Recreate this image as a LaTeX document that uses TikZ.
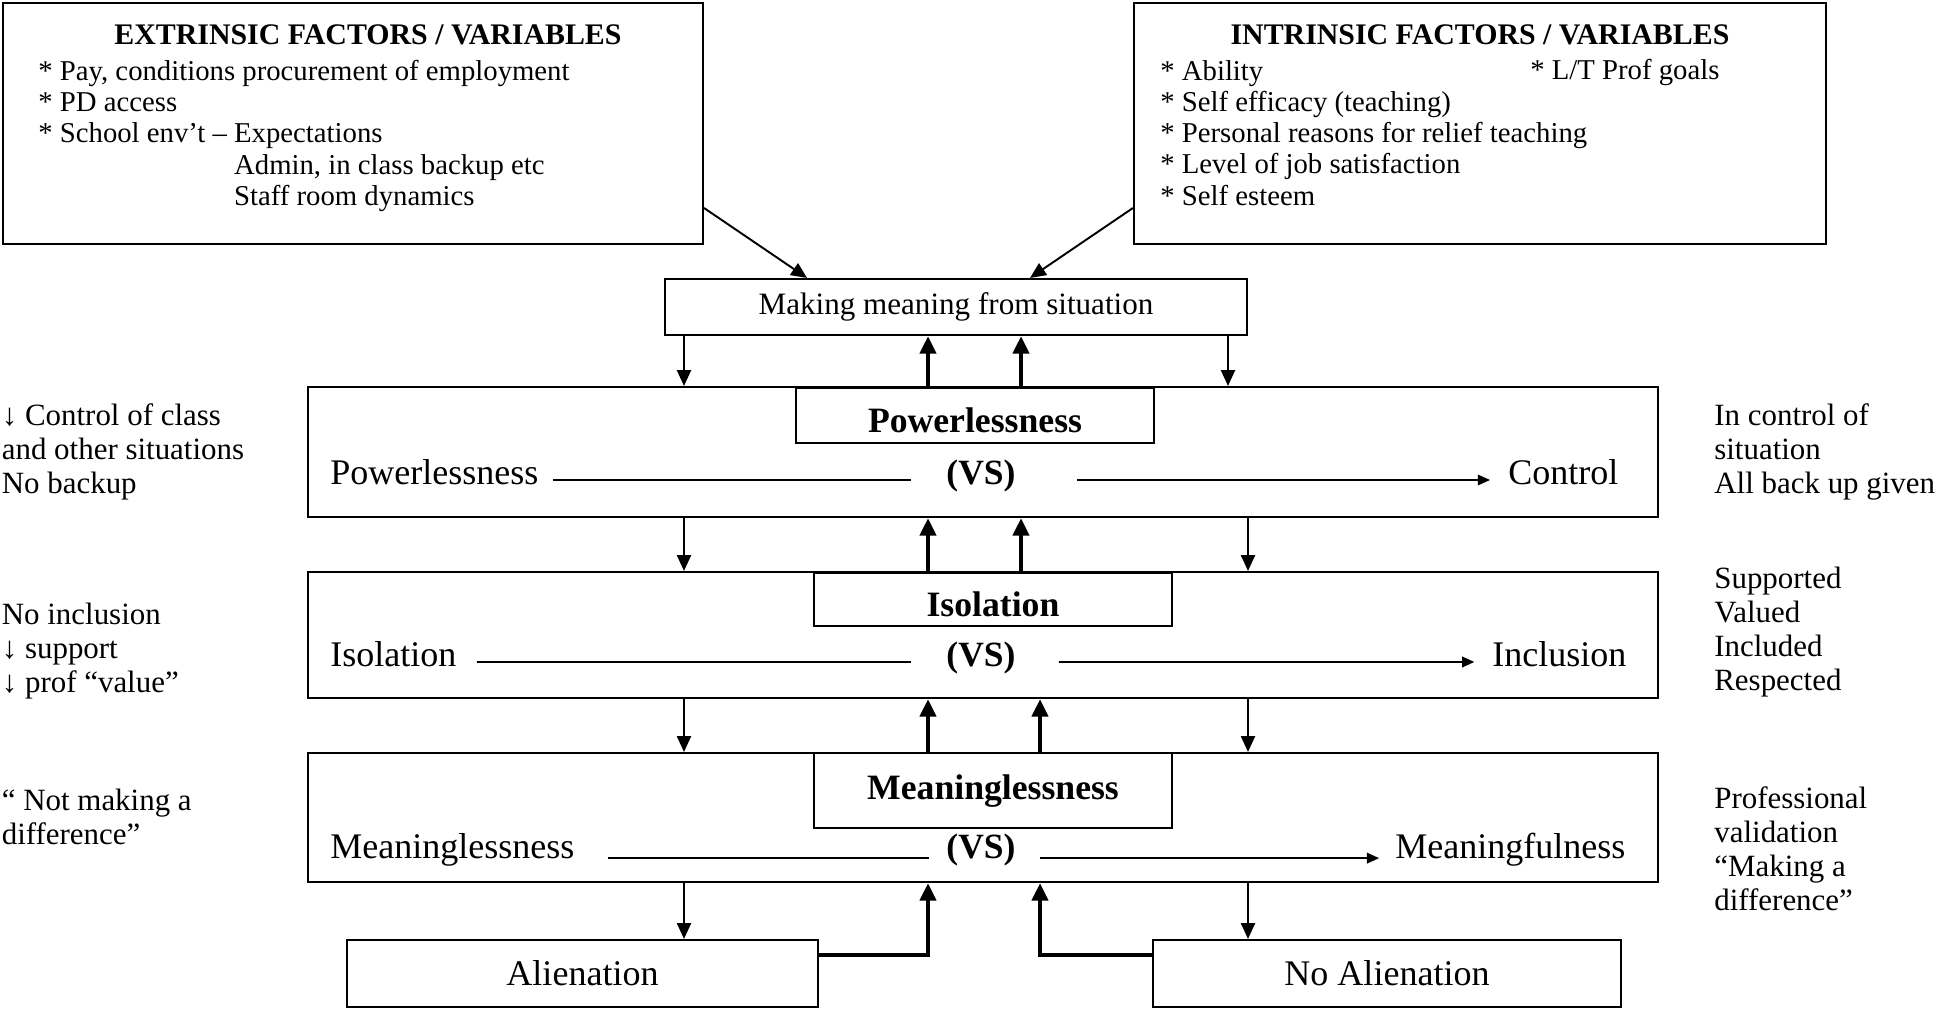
\documentclass[tikz,border=0pt]{standalone}
\usepackage{fontspec}
\setmainfont{Liberation Serif}
\usepackage{tikz}
\usetikzlibrary{arrows.meta}

\begin{document}
\begin{tikzpicture}[scale=0.2]
\tikzstyle{every node}+=[inner sep=0pt]
\tikzstyle{box}=[draw, line width=1.2pt, minimum width=27cm]
\tikzstyle{tbox}=[draw, line width=1.2pt, minimum width=7.16cm, font=\fontsize{20.3}{24}\selectfont\bfseries, text height=1.45em, text depth=0pt]
\tikzstyle{row}=[font=\fontsize{20.5}{24}\selectfont, text height=0.69em, text depth=0.22em]
\tikzstyle{side}=[font=\fontsize{17.6}{19.35}\selectfont, align=left, anchor=north west]
\tikzstyle{item}=[font=\fontsize{16.35}{17.75}\selectfont, align=left, anchor=north west]
\tikzstyle{head}=[font=\fontsize{17}{19}\selectfont\bfseries, anchor=base]
\tikzstyle{arr}=[line width=1.1pt, -{Triangle[length=9pt,width=8pt]}]
\tikzstyle{uparr}=[line width=2.6pt, -{Triangle[length=10pt,width=9pt]}]
\tikzstyle{vsline}=[line width=1.1pt]
\tikzstyle{vsarr}=[line width=1.1pt, -{Triangle[length=7pt,width=6pt]}]
\useasboundingbox (0,0) rectangle (194.6,-101);
% factor boxes
\node[draw, line width=1.2pt, minimum width=14cm, minimum height=4.82cm] (ext) at (35.3,-12.35) {};
\node[head] (exthead) at (36.8,-4.4) {EXTRINSIC FACTORS / VARIABLES};
\node[item] (extlist) at (3.8,-6.0) {* Pay, conditions procurement of employment\\* PD access\\* School env't -- Expectations\\\hphantom{* School env't -- }Admin, in class backup etc\\\hphantom{* School env't -- }Staff room dynamics};
\node[draw, line width=1.2pt, minimum width=13.84cm, minimum height=4.82cm] (intr) at (148.0,-12.35) {};
\node[head] (inthead) at (148.0,-4.4) {INTRINSIC FACTORS / VARIABLES};
\node[item] (intlist) at (116.0,-6.0) {* Ability\\* Self efficacy (teaching)\\* Personal reasons for relief teaching\\* Level of job satisfaction\\* Self esteem};
\node[item, anchor=base west] (intgoal) at (153.0,-7.9) {* L/T Prof goals};
\node[draw, line width=1.2pt, minimum width=11.64cm, minimum height=1.12cm, font=\fontsize{17.7}{20}\selectfont] (mm) at (95.6,-30.7) {Making meaning from situation};
% the three rows
\node[box, minimum height=2.6cm] (power) at (98.3,-45.2) {};
\node[tbox, minimum height=1.1cm] (ptitle) at (97.5,-41.55) {\raisebox{-2.6pt}{Powerlessness}};
\node[box, minimum height=2.52cm] (iso) at (98.3,-63.5) {};
\node[tbox, minimum height=1.06cm] (ititle) at (99.3,-59.95) {\raisebox{-2.6pt}{Isolation}};
\node[box, minimum height=2.58cm] (mean) at (98.3,-81.75) {};
\node[tbox, minimum height=1.5cm, text height=0.7em, text depth=0.22em] (mtitle) at (99.3,-79.05) {\raisebox{-2.6pt}{Meaninglessness}};
\node[row, anchor=west] (plab) at (33.0,-48.0) {Powerlessness};
\node[row, font=\fontsize{20.2}{24}\selectfont\bfseries] (pvs) at (98.1,-48.0) {(VS)};
\node[row, anchor=west] (pright) at (150.8,-48.0) {Control};
\draw[vsline, shorten <=8pt, shorten >=20pt] (plab) -- (pvs);
\draw[vsarr, shorten <=34.7pt, shorten >=10.2pt] (pvs) -- (pright);
\node[row, anchor=west] (ilab) at (33.0,-66.2) {Isolation};
\node[row, font=\fontsize{20.2}{24}\selectfont\bfseries] (ivs) at (98.1,-66.2) {(VS)};
\node[row, anchor=west] (iright) at (149.2,-66.2) {Inclusion};
\draw[vsline, shorten <=11.4pt, shorten >=20pt] (ilab) -- (ivs);
\draw[vsarr, shorten <=24.5pt, shorten >=10pt] (ivs) -- (iright);
\node[row, anchor=west] (mlab) at (33.0,-85.4) {Meaninglessness};
\node[row, font=\fontsize{20.2}{24}\selectfont\bfseries] (mvs) at (98.1,-85.4) {(VS)};
\node[row, anchor=west] (mright) at (139.5,-85.4) {Meaningfulness};
\draw[vsline, shorten <=18.8pt, shorten >=9.7pt] (mlab.base east) -- (mvs.base west);
\draw[vsarr, shorten <=13.7pt, shorten >=9pt] (mvs.base east) -- (mright.base west);
% outcomes
\node[draw, line width=1.2pt, minimum width=9.42cm, minimum height=1.34cm, font=\fontsize{20.5}{24}\selectfont] (alien) at (58.25,-97.35) {Alienation};
\node[draw, line width=1.2pt, minimum width=9.36cm, minimum height=1.34cm, font=\fontsize{20.5}{24}\selectfont] (noalien) at (138.7,-97.35) {No Alienation};
% side notes
\node[side] (lpow) at (0.15,-40.3) {↓ Control of class\\and other situations\\No backup};
\node[side] (rpow) at (171.4,-40.3) {In control of\\situation\\All back up given};
\node[side] (liso) at (0.15,-60.3) {No inclusion\\↓ support\\↓ prof “value”};
\node[side] (riso) at (171.4,-56.7) {Supported\\Valued\\Included\\Respected};
\node[side] (lmean) at (0.15,-78.9) {“ Not making a\\difference”};
\node[side] (rmean) at (171.4,-78.6) {Professional\\validation\\“Making a\\difference”};
% arrows
\draw[arr] (ext.east |- 0,-20.8) -- (mm.north -| 80.7,0);
\draw[arr] (intr.west |- 0,-20.8) -- (mm.north -| 103.0,0);
\draw[arr] (mm.south -| 68.4,0) -- (power.north -| 68.4,0);
\draw[arr] (mm.south -| 122.8,0) -- (power.north -| 122.8,0);
\draw[uparr] (power.north -| 92.8,0) -- (mm.south -| 92.8,0);
\draw[uparr] (power.north -| 102.1,0) -- (mm.south -| 102.1,0);
\draw[arr] (power.south -| 68.4,0) -- (iso.north -| 68.4,0);
\draw[arr] (power.south -| 124.8,0) -- (iso.north -| 124.8,0);
\draw[uparr] (iso.north -| 92.8,0) -- (power.south -| 92.8,0);
\draw[uparr] (iso.north -| 102.1,0) -- (power.south -| 102.1,0);
\draw[arr] (iso.south -| 68.4,0) -- (mean.north -| 68.4,0);
\draw[arr] (iso.south -| 124.8,0) -- (mean.north -| 124.8,0);
\draw[uparr] (mean.north -| 92.8,0) -- (iso.south -| 92.8,0);
\draw[uparr] (mean.north -| 104.0,0) -- (iso.south -| 104.0,0);
\draw[arr] (mean.south -| 68.4,0) -- (alien.north -| 68.4,0);
\draw[arr] (mean.south -| 124.8,0) -- (noalien.north -| 124.8,0);
\draw[uparr] (alien.east |- 0,-95.5) -| (mean.south -| 92.8,0);
\draw[uparr] (noalien.west |- 0,-95.5) -| (mean.south -| 104.0,0);
\end{tikzpicture}
\end{document}
